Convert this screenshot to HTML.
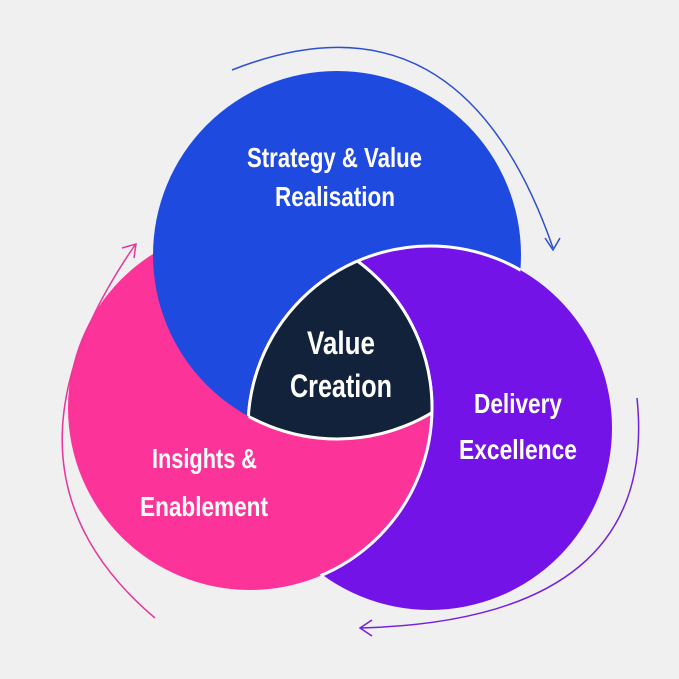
<!DOCTYPE html>
<html><head><meta charset="utf-8"><style>
html,body{margin:0;padding:0;background:#f0f0f1;}
svg{display:block}
text{font-family:"Liberation Sans",sans-serif;font-weight:bold;fill:#fff;}
</style></head><body>
<svg width="679" height="679" viewBox="0 0 679 679" xmlns="http://www.w3.org/2000/svg">
<defs>
<clipPath id="cpink"><circle cx="250" cy="408" r="182"/></clipPath>
<clipPath id="cblue"><circle cx="337" cy="255" r="184"/></clipPath>
<clipPath id="cpur"><circle cx="430" cy="428" r="182"/></clipPath>
<clipPath id="cpur2"><circle cx="430" cy="428" r="183.5"/></clipPath>
</defs>
<rect width="679" height="679" fill="#f0f0f1"/>
<circle cx="250" cy="408" r="182" fill="#fc3399"/>
<circle cx="337" cy="255" r="184" fill="#1f4ae0"/>
<circle cx="430" cy="428" r="182" fill="#7413e8"/>
<g clip-path="url(#cblue)"><circle cx="430" cy="428" r="182" fill="none" stroke="#fff" stroke-width="3"/></g>
<g clip-path="url(#cpur2)"><circle cx="250" cy="408" r="182" fill="#fc3399" stroke="#fff" stroke-width="3"/></g>
<g clip-path="url(#cpink)"><g clip-path="url(#cblue)"><circle cx="430" cy="428" r="182" fill="#11223a" stroke="#fff" stroke-width="3"/></g></g>
<g clip-path="url(#cpur)"><g clip-path="url(#cblue)"><circle cx="250" cy="408" r="182" fill="none" stroke="#fff" stroke-width="3"/></g></g>
<g clip-path="url(#cpur)"><g clip-path="url(#cpink)"><circle cx="337" cy="255" r="184" fill="none" stroke="#fff" stroke-width="3"/></g></g>
<!-- arrows -->
<path d="M232,70 Q460,-20 553,248" fill="none" stroke="#2a4fd6" stroke-width="1.5"/>
<path d="M545,238 L553,250 L560,238" fill="none" stroke="#2a4fd6" stroke-width="1.5"/>
<path d="M637,398 Q660,620 360,628" fill="none" stroke="#7420e0" stroke-width="1.5"/>
<path d="M372,620 L360,628 L372,636" fill="none" stroke="#7420e0" stroke-width="1.5"/>
<path d="M155,618 Q-20,470 135,245" fill="none" stroke="#e8389a" stroke-width="1.5"/>
<path d="M122,248 L136,244 L134,258" fill="none" stroke="#e8389a" stroke-width="1.5"/>
<!-- labels -->
<text x="247" y="167" font-size="28" textLength="175" lengthAdjust="spacingAndGlyphs">Strategy &amp; Value</text>
<text x="275" y="206" font-size="28" textLength="120" lengthAdjust="spacingAndGlyphs">Realisation</text>
<text x="307" y="354" font-size="32" textLength="68" lengthAdjust="spacingAndGlyphs">Value</text>
<text x="290" y="397" font-size="32" textLength="102" lengthAdjust="spacingAndGlyphs">Creation</text>
<text x="474" y="413" font-size="28" textLength="88" lengthAdjust="spacingAndGlyphs">Delivery</text>
<text x="459" y="459" font-size="28" textLength="118" lengthAdjust="spacingAndGlyphs">Excellence</text>
<text x="152" y="468" font-size="28" textLength="105" lengthAdjust="spacingAndGlyphs">Insights &amp;</text>
<text x="140" y="516" font-size="28" textLength="128" lengthAdjust="spacingAndGlyphs">Enablement</text>
</svg>
</body></html>
